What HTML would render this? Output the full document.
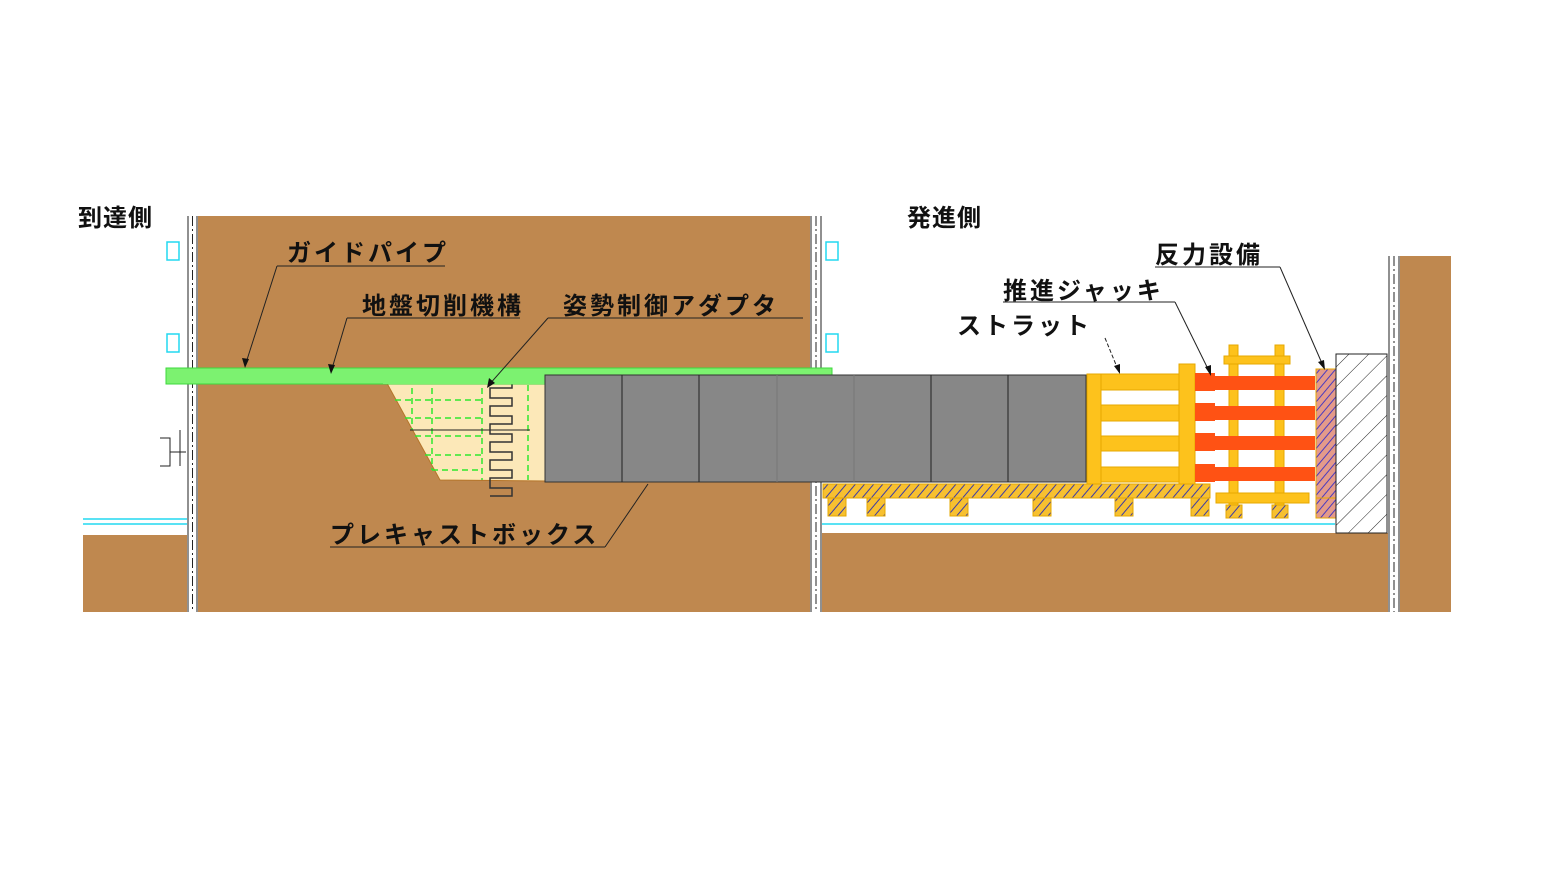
<!DOCTYPE html>
<html><head><meta charset="utf-8"><style>
html,body{margin:0;padding:0;background:#fff;}
svg{display:block}
text{font-family:"Liberation Sans","Noto Sans CJK JP",sans-serif;font-size:24px;fill:#111;letter-spacing:3px;font-weight:bold}
</style></head><body>
<svg width="1555" height="875" viewBox="0 0 1555 875" xmlns="http://www.w3.org/2000/svg">
<defs>
<pattern id="hy" width="7" height="7" patternUnits="userSpaceOnUse" patternTransform="rotate(40)">
<rect width="7" height="7" fill="#F7C030"/><line x1="0" y1="0" x2="0" y2="7" stroke="#3a3aa8" stroke-width="2"/></pattern>
<pattern id="hp" width="6" height="6" patternUnits="userSpaceOnUse" patternTransform="rotate(40)">
<rect width="6" height="6" fill="#E49A8A"/><line x1="0" y1="0" x2="0" y2="6" stroke="#4a3ac0" stroke-width="2"/></pattern>
<pattern id="hc" width="14" height="14" patternUnits="userSpaceOnUse" patternTransform="rotate(45)">
<rect width="14" height="14" fill="#fff"/><line x1="0" y1="0" x2="0" y2="14" stroke="#222" stroke-width="1"/></pattern>
</defs>
<rect x="198" y="216" width="612" height="396" fill="#BF884F"/>
<rect x="83" y="535" width="104" height="77" fill="#BF884F"/>
<rect x="822" y="533" width="566" height="79" fill="#BF884F"/>
<rect x="1400" y="256" width="51" height="356" fill="#BF884F"/>
<g stroke="#222" stroke-width="1">
<line x1="188" y1="216" x2="188" y2="612"/><line x1="197" y1="216" x2="197" y2="612"/>
<line x1="192.5" y1="216" x2="192.5" y2="612" stroke-dasharray="10,3,2,3"/>
<line x1="811" y1="216" x2="811" y2="612"/><line x1="821" y1="216" x2="821" y2="612"/>
<line x1="816" y1="216" x2="816" y2="612" stroke-dasharray="10,3,2,3"/>
<line x1="1389" y1="256" x2="1389" y2="612"/><line x1="1399" y1="256" x2="1399" y2="612"/>
<line x1="1394" y1="256" x2="1394" y2="612" stroke-dasharray="10,3,2,3"/>
</g>
<g stroke="#22d8f0" fill="none" stroke-width="1.5">
<rect x="167" y="242" width="12" height="18"/><rect x="167" y="334" width="12" height="18"/>
<rect x="826" y="242" width="12" height="18"/><rect x="826" y="334" width="12" height="18"/>
<line x1="83" y1="519" x2="187" y2="519"/><line x1="83" y1="524" x2="187" y2="524"/>
<line x1="822" y1="524" x2="1335" y2="524"/>
</g>
<path d="M160 438 h10 v28 h-10 M170 452 h16 M180 430 v36" stroke="#222" fill="none"/>
<polygon points="383,376 545,376 545,481 440,480" fill="#FCE8B8" stroke="#b5752a"/>
<g stroke="#2ee82e" stroke-dasharray="6,4" stroke-width="1.5">
<line x1="395" y1="400" x2="482" y2="400"/><line x1="405" y1="418" x2="482" y2="418"/>
<line x1="415" y1="436" x2="482" y2="436"/><line x1="425" y1="455" x2="482" y2="455"/><line x1="432" y1="470" x2="482" y2="470"/>
<line x1="412" y1="378" x2="412" y2="430"/><line x1="432" y1="378" x2="432" y2="470"/><line x1="482" y1="378" x2="482" y2="480"/>
<line x1="528" y1="385" x2="528" y2="480"/>
</g>
<line x1="410" y1="430" x2="530" y2="430" stroke="#222"/>
<path d="M490 380 h22 v8 h-22 v10 h22 v8 h-22 v10 h22 v8 h-22 v10 h22 v8 h-22 v10 h22 v8 h-22 v10 h22 v8 h-22 v10 h22 v8 h-22" stroke="#333" fill="none" stroke-width="1.5"/>
<rect x="166" y="368" width="666" height="16" fill="#7CF270" stroke="#3ed83e"/>
<rect x="383" y="376" width="162" height="8" fill="#7CF270"/>
<rect x="545" y="375" width="541" height="107" fill="#878787" stroke="#333"/>
<g stroke="#222"><line x1="622" y1="375" x2="622" y2="482"/><line x1="699" y1="375" x2="699" y2="482"/><line x1="777" y1="375" x2="777" y2="482" stroke="#777"/><line x1="854" y1="375" x2="854" y2="482" stroke="#777"/><line x1="931" y1="375" x2="931" y2="482"/><line x1="1008" y1="375" x2="1008" y2="482"/></g>
<rect x="823" y="484" width="387" height="14" fill="url(#hy)" stroke="#E6A800"/>
<g fill="url(#hy)" stroke="#E6A800">
<rect x="828" y="498" width="18" height="18"/><rect x="867" y="498" width="18" height="18"/><rect x="950" y="498" width="18" height="18"/><rect x="1033" y="498" width="18" height="18"/><rect x="1115" y="498" width="18" height="18"/><rect x="1191" y="498" width="18" height="18"/>
<rect x="1226" y="505" width="16" height="13"/><rect x="1272" y="505" width="16" height="13"/>
</g>
<g fill="#FDC21C" stroke="#E6A800">
<rect x="1087" y="374" width="14" height="110"/><rect x="1179" y="364" width="16" height="120"/>
<rect x="1101" y="374" width="78" height="16"/><rect x="1101" y="405" width="78" height="16"/><rect x="1101" y="436" width="78" height="15"/><rect x="1101" y="467" width="78" height="15"/>
<rect x="1229" y="345" width="9" height="160"/><rect x="1275" y="345" width="9" height="160"/>
<rect x="1224" y="356" width="66" height="8"/><rect x="1216" y="493" width="93" height="10"/>
</g>
<g fill="#FF5214">
<rect x="1195" y="373" width="20" height="18"/><rect x="1215" y="376" width="100" height="14"/>
<rect x="1195" y="403" width="20" height="18"/><rect x="1215" y="406" width="100" height="14"/>
<rect x="1195" y="433" width="20" height="18"/><rect x="1215" y="436" width="100" height="14"/>
<rect x="1195" y="464" width="20" height="18"/><rect x="1215" y="467" width="100" height="14"/>
</g>
<rect x="1316" y="369" width="20" height="129" fill="url(#hp)" stroke="#E6A800"/>
<rect x="1316" y="498" width="20" height="20" fill="url(#hp)" stroke="#E6A800"/>
<rect x="1336" y="354" width="51" height="179" fill="url(#hc)" stroke="#222"/>
<text x="78" y="226" style="letter-spacing:1px">到達側</text>
<text x="907" y="226" style="letter-spacing:1px">発進側</text>
<text x="287" y="261">ガイドパイプ</text>
<text x="362" y="314">地盤切削機構</text>
<text x="563" y="314">姿勢制御アダプタ</text>
<text x="330" y="543">プレキャストボックス</text>
<text x="957" y="334">ストラット</text>
<text x="1003" y="299">推進ジャッキ</text>
<text x="1155" y="263">反力設備</text>
<g stroke="#222" stroke-width="1" fill="none">
<line x1="277" y1="266" x2="445" y2="266"/><line x1="277" y1="266" x2="245" y2="366"/>
<line x1="347" y1="318" x2="520" y2="318"/><line x1="347" y1="318" x2="331" y2="372"/>
<line x1="548" y1="318" x2="803" y2="318"/><line x1="548" y1="318" x2="488" y2="386"/>
<line x1="330" y1="547" x2="605" y2="547"/><line x1="605" y1="547" x2="648" y2="484"/>
<line x1="1003" y1="302" x2="1175" y2="302"/><line x1="1175" y1="302" x2="1210" y2="373"/>
<line x1="1155" y1="267" x2="1280" y2="267"/><line x1="1280" y1="267" x2="1324" y2="368"/>
<line x1="1105" y1="338" x2="1119" y2="372" stroke-dasharray="4,2"/>
</g>
<g fill="#111">
<polygon points="245,368 242,358 249,359"/><polygon points="331,374 328,364 335,365"/>
<polygon points="487,388 489,378 495,383"/><polygon points="1211,376 1205,367 1211,365"/>
<polygon points="1325,370 1318,362 1324,360"/><polygon points="1120,374 1114,366 1120,364"/>
</g>
</svg>
</body></html>
